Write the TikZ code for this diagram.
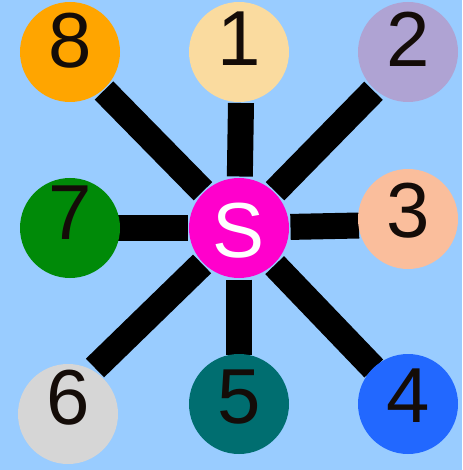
\documentclass[tikz,border=0pt]{standalone}
\usepackage{fontspec}
\setmainfont{Liberation Sans}
\definecolor{bgblue}{HTML}{99CCFF}
\definecolor{cEight}{HTML}{FFA500}
\definecolor{cOne}{HTML}{FADB9F}
\definecolor{cTwo}{HTML}{AFA3D3}
\definecolor{cSeven}{HTML}{008A08}
\definecolor{cS}{HTML}{FF00CC}
\definecolor{cThree}{HTML}{FABE9C}
\definecolor{cSix}{HTML}{D6D6D6}
\definecolor{cFive}{HTML}{006E70}
\definecolor{cFour}{HTML}{2268FF}
\definecolor{digit}{HTML}{140C08}
\pgfdeclarelayer{bglayer}
\pgfdeclarelayer{spokelayer}
\pgfsetlayers{bglayer,spokelayer,main}
\tikzset{
  ball/.style={circle, minimum size=100pt, inner sep=0pt, outer sep=1.5pt, fill=#1},
  numtext/.style={font=\fontsize{78}{78}\selectfont, text=digit, inner sep=0pt},
  spoke/.style={line width=26pt, black},
}
\begin{document}
\begin{tikzpicture}[x=1pt,y=-1pt]
\begin{pgfonlayer}{bglayer}
\fill[bgblue] (0,0) rectangle (462,470);
\end{pgfonlayer}
\useasboundingbox (0,0) rectangle (462,470);
% circles
\node[ball=cS]     (s)  at (239,228) {};
\node[ball=cOne]   (n1) at (239,52) {};
\node[ball=cTwo]   (n2) at (408,52) {};
\node[ball=cThree] (n3) at (408,219) {};
\node[ball=cFour]  (n4) at (408,404) {};
\node[ball=cFive]  (n5) at (239,404) {};
\node[ball=cSix]   (n6) at (68,414) {};
\node[ball=cSeven] (n7) at (70,228) {};
\node[ball=cEight] (n8) at (70,52) {};
% spoke ends next to the outer circles
\coordinate (e1) at (241,103);
\coordinate (e2) at (373.5,90.8);
\coordinate (e3) at (359,225.5);
\coordinate (e4) at (373.8,368.5);
\coordinate (e5) at (239,355);
\coordinate (e6) at (95,368);
\coordinate (e7) at (118,228);
\coordinate (e8) at (104,90.5);
\begin{pgfonlayer}{spokelayer}
\foreach \t in {e1,e2,e3,e4,e5,e6,e7,e8}
  \draw[spoke] (s) -- (\t);
\end{pgfonlayer}
% labels
\node[numtext, text=white] (ts) at (239,231) {S};
\node[numtext] (t1) at (239,39) {1};
\node[numtext] (t2) at (408,39) {2};
\node[numtext] (t3) at (408,211) {3};
\node[numtext] (t4) at (408,396) {4};
\node[numtext] (t5) at (239,397) {5};
\node[numtext] (t6) at (68,398) {6};
\node[numtext] (t7) at (70,213) {7};
\node[numtext] (t8) at (70,41) {8};
\end{tikzpicture}
\end{document}
